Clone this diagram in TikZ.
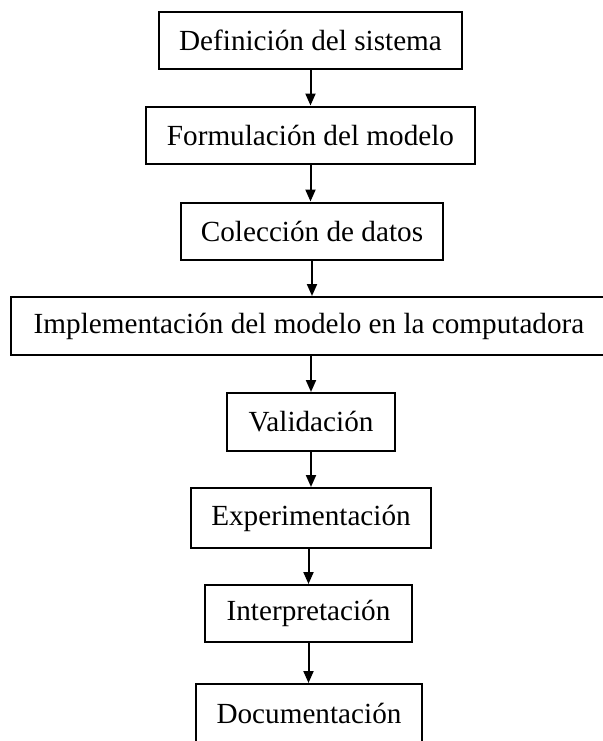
\documentclass[tikz,border=0pt]{standalone}
\usepackage{fontspec}
\setmainfont{Liberation Serif}
\usepackage{tikz}
\usetikzlibrary{positioning, arrows.meta, calc}

\begin{document}
\begin{tikzpicture}[
        x=0.5pt, y=-0.5pt,
        % Style for the stage boxes
        stagebox/.style={
            draw,
            line width=1pt,
            rectangle,
            minimum height=28.5pt,
            inner sep=0pt,
            font=\fontsize{14.6}{16}\selectfont
        },
        % Style for the connecting arrows
        flow_arrow/.style={
            -{Triangle[length=6pt, width=5pt]},
            line width=1pt
        }
    ]
    \useasboundingbox (0,0) rectangle (603,741);

    % ==========================================
    % STAGES
    % ==========================================
    \node[stagebox, minimum width=151.5pt] (sistema)   at (310.5, 40)  {Definición del sistema};
    \node[stagebox, minimum width=164.5pt] (modelo)    at (310.5, 135) {Formulación del modelo};
    \node[stagebox, minimum width=131pt]   (datos)     at (312, 231)   {Colección de datos};
    \node[stagebox, minimum width=304.5pt, minimum height=29pt] (implementa) at (315.5, 326)
        {\hspace*{-6.5pt}Implementación del modelo en la computadora};
    \node[stagebox, minimum width=84pt, minimum height=29pt] (valida)  at (311, 422)  {Validación};
    \node[stagebox, minimum width=120pt, minimum height=30pt] (experimenta) at (311, 518) {Experimentación};
    \node[stagebox, minimum width=103.5pt] (interpreta) at (308.5, 613.5) {Interpretación};
    \node[stagebox, minimum width=113pt, minimum height=29pt] (documenta) at (309, 713) {Documentación};

    % ==========================================
    % ARROWS
    % ==========================================
    \draw[flow_arrow] (sistema.south)     -- (sistema.south |- modelo.north);
    \draw[flow_arrow] (modelo.south)      -- (modelo.south |- datos.north);
    \draw[flow_arrow] (datos.south)       -- (datos.south |- implementa.north);
    \draw[flow_arrow] (valida.north |- implementa.south) -- (valida.north);
    \draw[flow_arrow] (valida.south)      -- (valida.south |- experimenta.north);
    \draw[flow_arrow] (interpreta.north |- experimenta.south) -- (interpreta.north);
    \draw[flow_arrow] (interpreta.south)  -- (interpreta.south |- documenta.north);
\end{tikzpicture}
\end{document}
